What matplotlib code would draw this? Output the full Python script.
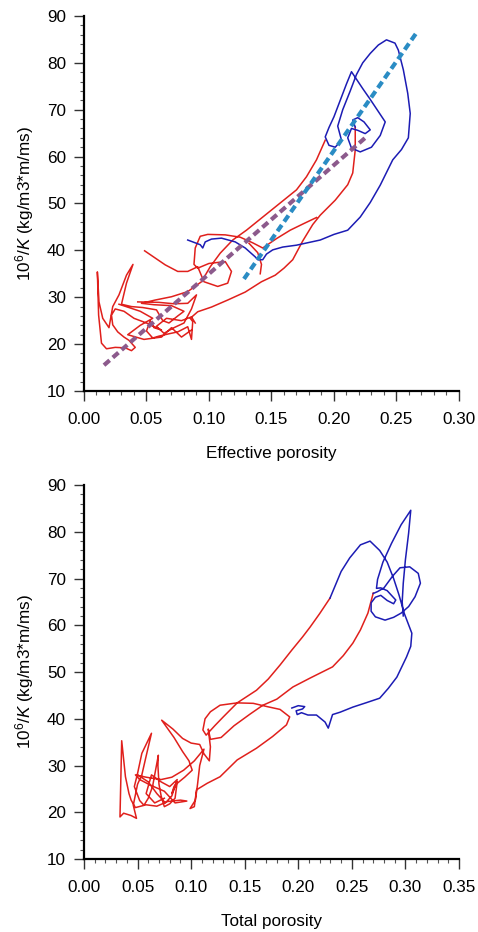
import numpy as np
import matplotlib
matplotlib.use("Agg")
import matplotlib.pyplot as plt
from matplotlib.ticker import MultipleLocator, FormatStrFormatter

plt.rcParams['font.family'] = ['Liberation Sans', 'DejaVu Sans']
plt.rcParams['mathtext.fontset'] = 'custom'
plt.rcParams['mathtext.rm'] = 'Liberation Sans'
plt.rcParams['mathtext.it'] = 'Liberation Sans:italic'

nan = np.nan

# ---- effective porosity vs 10^6/K ----
# red interval (NaN separates pieces of the trace)
eff_red_x = [0.217, 0.217, 0.215, 0.211, 0.201, 0.189, 0.183, 0.175, 0.167, 0.160, 0.153, 0.142, 0.129, 0.115,
             0.102, 0.091, 0.085, 0.087, 0.086, 0.083, 0.075, 0.068, 0.060, 0.055, 0.050, 0.053, 0.056, 0.062,
             0.050, 0.040, 0.032, 0.025, 0.022, 0.023, 0.027, 0.032, 0.036, 0.041, 0.038, 0.033, 0.025, 0.018,
             0.014, 0.0117, 0.0107, 0.012, 0.015, 0.020, 0.023, 0.028, 0.034, 0.0392, 0.034, 0.030, 0.038,
             0.047, 0.058, 0.063, 0.068, 0.075, 0.080, 0.070, 0.056, 0.046, 0.057, 0.070, 0.083, 0.094, 0.101,
             0.109, 0.119, 0.130, 0.143, 0.157, 0.170, 0.178, 0.186, 0.193,
             nan,
             0.186, 0.175, 0.165, 0.154, 0.143, 0.135, 0.125, 0.113, 0.099, 0.093, 0.089, 0.088, 0.091, 0.100,
             0.113, 0.118, 0.115, 0.107, 0.096, 0.091, 0.083, 0.075, 0.065, 0.0485,
             nan,
             0.132, 0.139, 0.142, 0.141,
             nan,
             0.043, 0.060, 0.072, 0.083, 0.090, 0.086, 0.080, 0.072, 0.064, 0.058, 0.066, 0.078, 0.086, 0.089,
             nan,
             0.028, 0.045, 0.055, 0.045, 0.035, 0.048, 0.062, 0.070, 0.078, 0.086]
eff_red_y = [66.3, 61.4, 56.5, 54.0, 50.7, 47.5, 45.5, 42.0, 38.0, 36.2, 34.7, 33.3, 31.1, 29.4,
             27.9, 26.9, 25.5, 24.8, 21.0, 23.7, 22.6, 22.2, 21.7, 21.3, 22.8, 25.0, 23.5, 23.0,
             24.5, 25.5, 27.0, 27.5, 26.2, 24.1, 22.6, 21.5, 20.8, 19.3, 18.6, 19.2, 19.3, 19.0,
             20.2, 26.2, 35.4, 29.0, 25.5, 23.5, 28.0, 30.5, 34.7, 37.0, 33.0, 28.5, 28.0,
             27.8, 27.3, 25.0, 24.5, 26.0, 27.0, 28.2, 28.4, 28.7, 29.4, 30.1, 31.2, 33.3, 36.5,
             39.4, 42.2, 44.3, 47.1, 50.1, 52.9, 55.7, 59.3, 63.5,
             nan,
             47.0, 45.6, 44.3, 42.5, 40.5, 41.6, 42.8, 43.3, 43.4, 43.0, 40.5, 37.0, 36.2, 37.2,
             37.6, 35.5, 33.0, 32.3, 33.3, 36.5, 35.5, 35.5, 36.9, 39.9,
             nan,
             41.5, 39.5, 37.0, 35.0,
             nan,
             29.0, 28.9, 28.6, 28.7, 30.5, 27.5, 24.5, 23.5, 22.3, 23.8, 25.5, 25.0, 25.8, 24.5,
             nan,
             28.5, 27.0, 25.5, 24.0, 22.0, 21.0, 21.5, 23.5, 21.5, 23.0]

# blue interval
eff_blue_x = [0.217, 0.215, 0.219, 0.224, 0.229, 0.225, 0.219, 0.214,
              0.211, 0.214, 0.221, 0.230, 0.237, 0.241, 0.236, 0.229, 0.223, 0.218, 0.214,
              0.210, 0.205, 0.200, 0.196, 0.193, 0.196, 0.201, 0.206,
              0.203, 0.207, 0.213, 0.218, 0.223, 0.229, 0.2355, 0.242, 0.2488, 0.2515, 0.2555, 0.259, 0.261,
              0.2595, 0.254, 0.247, 0.237, 0.229, 0.221, 0.211, 0.200, 0.189, 0.170, 0.159, 0.151, 0.146,
              0.143, 0.139, 0.137, 0.129, 0.121, 0.110, 0.102, 0.097, 0.095, 0.093, 0.083]
eff_blue_y = [66.3, 67.8, 68.3, 67.4, 65.7, 64.9, 65.6, 66.0,
              64.0, 61.8, 61.0, 62.0, 64.5, 67.4, 69.4, 72.2, 74.5, 76.5, 78.1,
              75.5, 72.0, 68.5, 66.2, 64.2, 62.4, 62.0, 63.5,
              66.5, 70.0, 74.0, 77.5, 80.0, 82.0, 83.8, 84.9, 84.2, 82.7, 78.5, 73.5, 69.2,
              64.0, 61.5, 59.3, 53.9, 50.2, 47.1, 44.3, 43.4, 42.2, 41.1, 40.7, 40.1, 39.2,
              38.0, 38.0, 38.6, 40.5, 41.8, 42.6, 42.4, 41.8, 40.5, 41.2, 42.2]

# trend lines (end points)
fit_all_x = [0.016, 0.225]
fit_all_y = [15.5, 64.0]
fit_blue_x = [0.128, 0.266]
fit_blue_y = [33.9, 86.4]

# ---- total porosity vs 10^6/K ----
tot_red_x = [0.270, 0.265, 0.258, 0.251, 0.242, 0.232, 0.211, 0.195, 0.180, 0.167, 0.155, 0.140, 0.128,
             0.118, 0.116, 0.118, 0.117, 0.112, 0.108, 0.100, 0.092, 0.083, 0.0725,
             0.084, 0.092, 0.098, 0.101, 0.094, 0.086, 0.082, 0.084, 0.087, 0.085, 0.080, 0.075, 0.072,
             0.070, 0.069, 0.0694, 0.066, 0.064, 0.060, 0.056, 0.052,
             0.047, 0.050, 0.054, 0.063, 0.058, 0.054, 0.050, 0.046, 0.049, 0.044, 0.037, 0.0336, 0.0352,
             0.0387, 0.042, 0.044, 0.048,
             0.058, 0.068, 0.078, 0.090, 0.096, 0.085, 0.075, 0.062, 0.052, 0.048, 0.058, 0.072, 0.082,
             0.093, 0.103, 0.112, 0.108, 0.106, 0.104, 0.099, 0.103, 0.105, 0.115, 0.127, 0.143, 0.161,
             0.176, 0.189, 0.192, 0.183, 0.171, 0.158, 0.143, 0.127, 0.118, 0.113, 0.111, 0.114, 0.122,
             0.130, 0.143, 0.161, 0.172, 0.183, 0.194, 0.204, 0.211, 0.220, 0.2296,
             nan,
             0.050, 0.060, 0.068, 0.076, 0.082, 0.087, 0.080, 0.072, 0.063, 0.058, 0.066, 0.075]
tot_red_y = [66.9, 62.6, 59.0, 56.2, 53.5, 51.1, 48.7, 46.8, 44.2, 42.9, 41.0, 38.5, 36.0,
             35.6, 37.8, 34.0, 31.0, 32.5, 34.5, 34.8, 35.8, 37.8, 39.7,
             36.0, 33.0, 31.0, 29.0, 27.5, 26.0, 24.0, 25.5, 26.5, 23.0, 21.8, 21.2, 23.5,
             26.0, 30.0, 32.2, 28.0, 25.5, 23.0, 21.5, 22.5,
             25.5, 28.3, 32.6, 36.9, 32.0, 28.0, 26.0, 21.5, 18.7, 19.3, 19.8, 19.0, 35.3,
             27.6, 24.0, 22.6, 21.0,
             21.6, 21.3, 22.3, 22.6, 22.4, 22.0, 24.5, 25.8, 27.0, 28.0, 27.5, 27.0, 27.5,
             29.0, 31.0, 33.5, 30.0, 26.0, 22.6, 20.8, 21.2, 24.8, 26.2, 27.6, 31.2, 33.7,
             36.2, 38.7, 40.4, 42.0, 42.6, 43.3, 43.4, 42.9, 41.5, 40.0, 37.6, 36.5, 38.5,
             40.4, 43.4, 46.1, 48.5, 51.5, 54.7, 57.5, 59.6, 62.5, 65.8,
             nan,
             28.0, 26.5, 24.0, 22.0, 23.5, 27.0, 25.5, 26.5, 28.0, 24.0, 22.0, 23.0]

tot_blue_x = [0.298, 0.297, 0.298, 0.300, 0.303, 0.305, 0.296, 0.287, 0.279, 0.274, 0.273,
              0.277, 0.283, 0.291, 0.289, 0.283, 0.277, 0.272, 0.268, 0.268, 0.272, 0.281, 0.289, 0.296,
              0.303, 0.309, 0.314, 0.312, 0.304, 0.295, 0.288, 0.280, 0.274, 0.270,
              nan,
              0.2296, 0.240, 0.248, 0.258, 0.267, 0.276, 0.283, 0.289, 0.294, 0.299, 0.304, 0.306, 0.305,
              0.301, 0.292, 0.284, 0.276, 0.263, 0.251, 0.239, 0.232, 0.228, 0.225, 0.217, 0.209, 0.203,
              0.199, 0.198, 0.204, 0.206, 0.200, 0.194]
tot_blue_y = [62.0, 65.0, 69.0, 74.0, 79.7, 84.6, 81.5, 77.5, 73.5, 69.8, 67.9,
              68.0, 67.4, 65.4, 64.6, 65.3, 66.4, 66.0, 64.8, 63.0, 61.8, 61.1, 61.7, 62.6,
              64.0, 66.1, 69.0, 71.1, 72.5, 72.3, 70.5, 68.0, 67.2, 66.8,
              nan,
              65.8, 71.5, 74.4, 77.2, 78.0, 76.0, 73.5, 70.0, 66.5, 62.5, 59.5, 58.3, 55.5,
              53.2, 48.9, 46.5, 44.4, 43.4, 42.5, 41.4, 40.9, 38.0, 39.3, 40.8, 40.8, 41.3,
              40.9, 41.7, 42.1, 42.6, 42.8, 42.3]

RED = '#e0201c'
BLUE = '#1c1cb4'
FS = 12.3

fig = plt.figure(figsize=(4.78, 9.32), dpi=100)
ax1 = fig.add_axes([0.1757, 0.5805, 0.7845, 0.4024])
ax2 = fig.add_axes([0.1757, 0.0783, 0.7845, 0.4013])

ax1.plot(eff_red_x, eff_red_y, color=RED, lw=1.1, zorder=2)
ax1.plot(eff_blue_x, eff_blue_y, color=BLUE, lw=1.1, zorder=2)
ax1.plot(fit_all_x, fit_all_y, color='#8c5a8c', lw=3, dashes=(1.8, 1.0), zorder=3)
ax1.plot(fit_blue_x, fit_blue_y, color='#2a8cc4', lw=3, dashes=(1.8, 1.0), zorder=3)

ax2.plot(tot_red_x, tot_red_y, color=RED, lw=1.1)
ax2.plot(tot_blue_x, tot_blue_y, color=BLUE, lw=1.1)

for ax, xmax, xlab in [(ax1, 0.30, 'Effective porosity'), (ax2, 0.35, 'Total porosity')]:
    ax.set_xlim(0, xmax)
    ax.set_ylim(10, 90)
    ax.xaxis.set_major_locator(MultipleLocator(0.05))
    ax.xaxis.set_minor_locator(MultipleLocator(0.01))
    ax.yaxis.set_major_locator(MultipleLocator(10))
    ax.yaxis.set_minor_locator(MultipleLocator(2))
    ax.xaxis.set_major_formatter(FormatStrFormatter('%.2f'))
    for s in ['top', 'right']:
        ax.spines[s].set_visible(False)
    for s in ['left', 'bottom']:
        ax.spines[s].set_linewidth(1.6)
    ax.tick_params(which='major', length=7, width=1.0, labelsize=FS, pad=6, color='#333333')
    ax.tick_params(axis='x', which='major', pad=8)
    ax.tick_params(which='minor', length=3, width=0.8, color='#555555')
    ax.set_xlabel(xlab, fontsize=FS, labelpad=14)
    ax.set_ylabel(r'10$^6$/$K$ (kg/m3*m/ms)', fontsize=FS, labelpad=8)

fig.savefig('out.png', dpi=100)
